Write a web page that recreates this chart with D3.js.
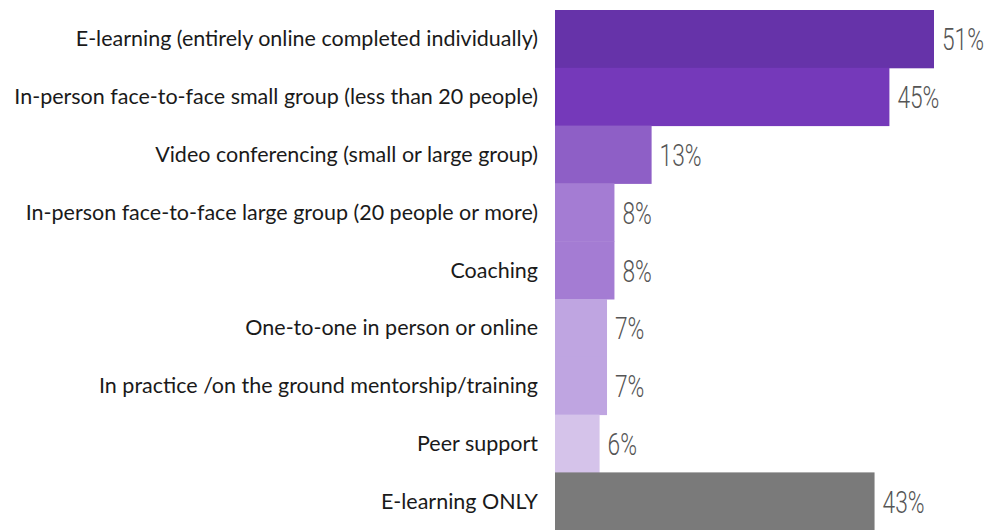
<!DOCTYPE html>
<html>
<head>
<meta charset="utf-8">
<script src="https://cdn.jsdelivr.net/npm/d3@7"></script>
<style>
  body { margin: 0; background: #fff; }
  .cat { font-family: Lato, "Open Sans", sans-serif; fill: #1a1a1a; }
  .val { font-family: Roboto, "Liberation Sans", sans-serif; font-weight: 300; fill: #555; }
</style>
</head>
<body>
<div id="chart"></div>
<script>
var categories = [
  "E-learning (entirely online completed individually)",
  "In-person face-to-face small group (less than 20 people)",
  "Video conferencing (small or large group)",
  "In-person face-to-face large group (20 people or more)",
  "Coaching",
  "One-to-one in person or online",
  "In practice /on the ground mentorship/training",
  "Peer support",
  "E-learning ONLY"
];
var values = [51, 45, 13, 8, 8, 7, 7, 6, 43];
var colors = ["#6633a9", "#7539ba", "#8e5fc6", "#a47cd3", "#a47cd3", "#bfa5e1", "#bfa5e1", "#d5c3ea", "#7a7a7a"];

var width = 997, height = 530;
var marginLeft = 555, marginTop = 10;

var svg = d3.select("#chart").append("svg")
  .attr("width", width)
  .attr("height", height);

var x = d3.scaleLinear().domain([0, 51]).range([marginLeft, 934]);
var y = d3.scaleBand().domain(categories).range([marginTop, marginTop + 9 * 57.8]).padding(0);

svg.selectAll("rect.bar")
  .data(categories)
  .enter().append("rect")
  .attr("class", "bar")
  .attr("x", x(0))
  .attr("y", d => y(d))
  .attr("width", (d, i) => x(values[i]) - x(0))
  .attr("height", y.bandwidth() + 0.5)
  .attr("fill", (d, i) => colors[i]);

var cats = svg.selectAll("text.cat")
  .data(categories)
  .enter().append("text")
  .attr("class", "cat")
  .attr("x", 538)
  .attr("y", d => y(d) + y.bandwidth() / 2)
  .attr("dy", "0.35em")
  .attr("text-anchor", "end")
  .style("font-size", "18px")
  .text(d => d);

// fit the longest label to the width seen in the picture
var longest = cats.nodes()[1].getComputedTextLength();
var fs = 18 * 524 / longest;
cats.style("font-size", fs + "px");

// value labels: condensed look by squeezing horizontally
var vals = svg.selectAll("text.val")
  .data(categories)
  .enter().append("text")
  .attr("class", "val")
  .attr("dy", "0.36em")
  .style("font-size", "32px")
  .text((d, i) => values[i] + "%");

var k = 42 / vals.nodes()[0].getComputedTextLength();
vals.attr("transform", (d, i) => "translate(" + (x(values[i]) + 8) + "," + (y(d) + y.bandwidth() / 2) + ") scale(" + k + ",1)");
</script>
</body>
</html>
